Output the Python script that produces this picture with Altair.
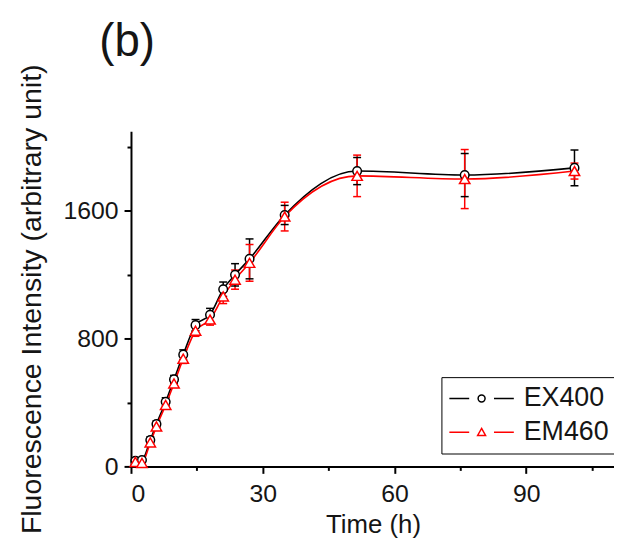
import altair as alt
import pandas as pd

# ---- data ----
time_h = [1.0, 2.5, 4.4, 5.8, 7.9, 9.8, 11.9, 14.7, 18.0, 21.0, 23.7, 27.0, 35.0, 51.5, 76.0, 101.0]
ex400 = [35, 40, 165, 265, 405, 545, 700, 885, 950, 1110, 1200, 1300, 1575, 1850, 1825, 1870]
ex400_err = [15, 15, 20, 20, 25, 25, 30, 35, 40, 45, 70, 125, 60, 85, 135, 112]
em460 = [28, 22, 150, 250, 385, 520, 675, 850, 920, 1065, 1170, 1275, 1565, 1820, 1800, 1850]
em460_err = [15, 15, 20, 20, 25, 25, 30, 35, 35, 45, 60, 115, 90, 130, 185, 50]

series_names = ["EX400", "EM460"]
series_colors = ["#000000", "#ff0000"]
x_major = [0, 30, 60, 90]
x_minor = [15, 45, 75, 105]
y_major = [0, 800, 1600]
y_minor = [400, 1200, 2000]

rows = []
for name, vals, errs in [("EX400", ex400, ex400_err), ("EM460", em460, em460_err)]:
    for t, v, e in zip(time_h, vals, errs):
        rows.append({"time": t, "value": v, "lo": v - e, "hi": v + e, "series": name})
df = pd.DataFrame(rows)

caps = pd.concat([
    df[["time", "series"]].assign(cap=df["lo"]),
    df[["time", "series"]].assign(cap=df["hi"]),
])

FONT = "Liberation Sans"
TXT = "#151515"

xs = alt.Scale(domain=[0, 110], nice=False, zero=False)
ys = alt.Scale(domain=[0, 2100], nice=False)
cs = alt.Scale(domain=series_names, range=series_colors)

sym_circle = "M-2.6,0L-1.0,0M1.0,0L2.6,0M0.28,0A0.28,0.28,0,1,1,-0.28,0A0.28,0.28,0,1,1,0.28,0Z"
sym_tri = "M-2.6,0L-1.0,0M1.0,0L2.6,0M0,-0.3L0.32,0.26L-0.32,0.26Z"
shs = alt.Scale(domain=series_names, range=[sym_circle, sym_tri])

legend = alt.Legend(
    title=None, orient="none", legendX=313, legendY=248,
    symbolSize=625, symbolStrokeWidth=1.5, symbolOffset=19, symbolOpacity=1,
    symbolFillColor="white",
    labelFontSize=27, labelFont=FONT, labelColor=TXT, labelOffset=29,
    padding=8, rowPadding=6, strokeColor="black", fillColor="white",
)

axis_common = dict(
    grid=False, domainColor="black", domainWidth=2, tickColor="black", tickWidth=2,
    labelFont=FONT, titleFont=FONT, labelColor=TXT, titleColor=TXT,
    titleFontWeight="normal", format="d",
)

x_axis = alt.Axis(values=x_major, tickSize=7, labelFontSize=25, labelPadding=8, orient="bottom",
                  title="Time (h)", titleFontSize=26, titlePadding=6, titleX=244, **axis_common)
y_axis = alt.Axis(values=y_major, tickSize=7, labelFontSize=25, labelPadding=6, orient="left",
                  title="Fluorescence Intensity (arbitrary unit)", titleFontSize=28.7,
                  titlePadding=17, **axis_common)
x_minor_axis = alt.Axis(values=x_minor, tickSize=4, labels=False, domain=False, title=None,
                        orient="bottom", grid=False, tickColor="black", tickWidth=2)
y_minor_axis = alt.Axis(values=y_minor, tickSize=4, labels=False, domain=False, title=None,
                        orient="left", grid=False, tickColor="black", tickWidth=2)

color_enc = alt.Color("series:N", scale=cs, legend=legend)

base = alt.Chart(df)

errbars = base.mark_rule(strokeWidth=1.5).encode(
    x=alt.X("time:Q", scale=xs, axis=x_minor_axis),
    y=alt.Y("lo:Q", scale=ys, axis=y_minor_axis),
    y2="hi:Q",
    color=color_enc,
)

capmarks = alt.Chart(caps).mark_rule(strokeWidth=1.5, xOffset=-4, x2Offset=4).encode(
    x=alt.X("time:Q", scale=xs, axis=None),
    x2="time:Q",
    y=alt.Y("cap:Q", scale=ys, axis=None),
    color=color_enc,
)

lines = base.mark_line(strokeWidth=1.6, interpolate="monotone").encode(
    x=alt.X("time:Q", scale=xs, axis=x_axis),
    y=alt.Y("value:Q", scale=ys, axis=y_axis),
    color=color_enc,
    detail="series:N",
)

def point_layer(name, shape, size):
    return base.transform_filter(alt.datum.series == name).mark_point(
        strokeWidth=1.5, opacity=1, shape=shape, size=size, filled=False
    ).encode(
        x=alt.X("time:Q", scale=xs, axis=None),
        y=alt.Y("value:Q", scale=ys, axis=None),
        color=color_enc,
        fill=alt.value("white"),
    )

points_ex = point_layer("EX400", "circle", 75)
points_em = point_layer("EM460", "triangle-up", 110)

legend_layer = base.mark_point(strokeWidth=1.5, opacity=0).encode(
    x=alt.X("time:Q", scale=xs, axis=None),
    y=alt.Y("value:Q", scale=ys, axis=None),
    color=color_enc,
    shape=alt.Shape("series:N", scale=shs, legend=legend),
)

chart = alt.layer(errbars, capmarks, lines, points_ex, points_em, legend_layer).resolve_axis(
    x="independent", y="independent"
).properties(
    width=487, height=338,
    autosize=alt.AutoSizeParams(type="none"),
    padding={"left": 124, "top": 122, "right": 0, "bottom": 70},
    title=alt.TitleParams("(b)", anchor="start", frame="group", fontSize=46, font=FONT,
                          fontWeight="normal", color=TXT, dx=-32, offset=0, dy=2),
).configure_view(stroke=None)

chart.save("out.html", embed_options={"renderer": "svg", "actions": False})
